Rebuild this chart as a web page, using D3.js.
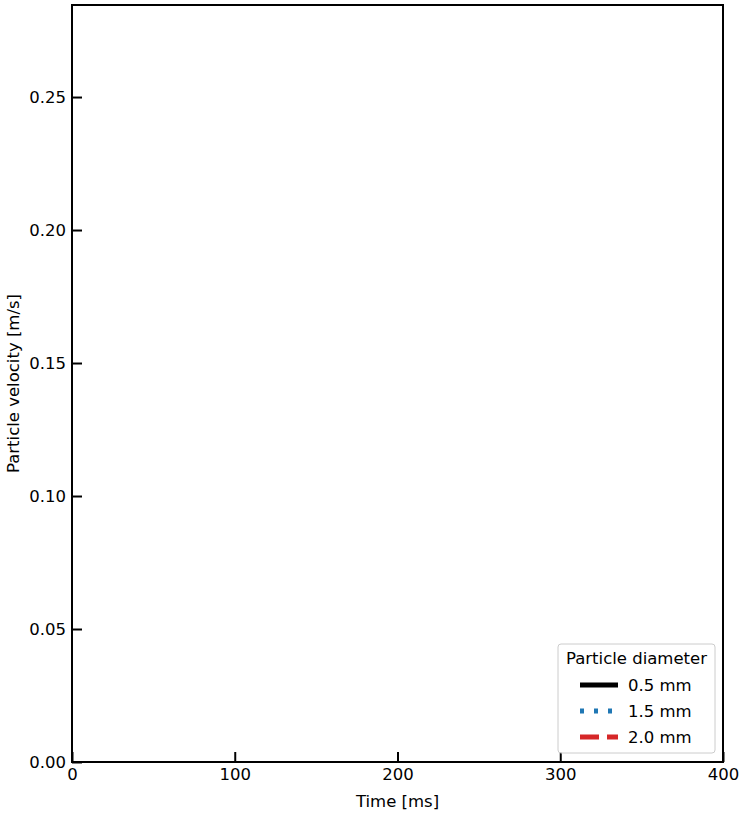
<!DOCTYPE html>
<html>
<head>
<meta charset="utf-8">
<script src="https://cdn.jsdelivr.net/npm/d3@7"></script>
<style>
  body { margin: 0; background: #fff; }
  text { font-family: "DejaVu Sans", sans-serif; fill: #000; }
</style>
</head>
<body>
<div id="chart"></div>
<script>
// data (the chart has no plotted series, only axes and legend)
const xDomain = [0, 400];
const yDomain = [0, 0.2846];
const xTicks = [0, 100, 200, 300, 400];
const yTicks = [0, 0.05, 0.10, 0.15, 0.20, 0.25];
const seriesNames = ["0.5 mm", "1.5 mm", "2.0 mm"];
const seriesColors = ["#000000", "#1f77b4", "#d62728"];
const seriesDash = [null, "4,10", "19,8"];
const legendTitle = "Particle diameter";

const width = 744, height = 816;
const margin = { top: 5, right: 21, bottom: 54, left: 72 };
const fs = 16.5;

const svg = d3.select("#chart").append("svg")
  .attr("width", width)
  .attr("height", height);

const x = d3.scaleLinear().domain(xDomain).range([margin.left, width - margin.right]);
const y = d3.scaleLinear().domain(yDomain).range([height - margin.bottom, margin.top]);

// x axis
const xAxis = svg.append("g")
  .attr("transform", `translate(0,${height - margin.bottom})`)
  .call(d3.axisBottom(x).tickValues(xTicks).tickSize(-10).tickPadding(6).tickFormat(d3.format("d")));

// y axis
const yAxis = svg.append("g")
  .attr("transform", `translate(${margin.left},0)`)
  .call(d3.axisLeft(y).tickValues(yTicks).tickSize(-10).tickPadding(6).tickFormat(d3.format(".2f")));

[xAxis, yAxis].forEach(g => {
  g.select(".domain").remove();
  g.selectAll(".tick line").attr("stroke", "#000").attr("stroke-width", 2);
  g.selectAll(".tick text").attr("font-size", fs).attr("font-family", "DejaVu Sans");
});

// frame
svg.append("rect")
  .attr("x", margin.left).attr("y", margin.top)
  .attr("width", width - margin.left - margin.right)
  .attr("height", height - margin.top - margin.bottom)
  .attr("fill", "none").attr("stroke", "#000").attr("stroke-width", 2);

// axis labels
svg.append("text")
  .attr("x", (margin.left + width - margin.right) / 2)
  .attr("y", 807)
  .attr("text-anchor", "middle")
  .attr("font-size", fs)
  .text("Time [ms]");

svg.append("text")
  .attr("transform", `translate(19,${(margin.top + height - margin.bottom) / 2}) rotate(-90)`)
  .attr("text-anchor", "middle")
  .attr("font-size", fs)
  .text("Particle velocity [m/s]");

// legend
const lg = svg.append("g").attr("transform", "translate(558,644)");
lg.append("rect")
  .attr("width", 157).attr("height", 109).attr("rx", 3)
  .attr("fill", "#fff").attr("fill-opacity", 0.8)
  .attr("stroke", "#ccc").attr("stroke-width", 1);
lg.append("text")
  .attr("x", 78.5).attr("y", 20)
  .attr("text-anchor", "middle")
  .attr("font-size", fs)
  .text(legendTitle);

seriesNames.forEach((name, i) => {
  const yy = 41 + i * 26;
  lg.append("line")
    .attr("x1", 22).attr("x2", 60)
    .attr("y1", yy).attr("y2", yy)
    .attr("stroke", seriesColors[i])
    .attr("stroke-width", 5)
    .attr("stroke-dasharray", seriesDash[i]);
  lg.append("text")
    .attr("x", 70).attr("y", yy + 6)
    .attr("font-size", fs)
    .text(name);
});
</script>
</body>
</html>
